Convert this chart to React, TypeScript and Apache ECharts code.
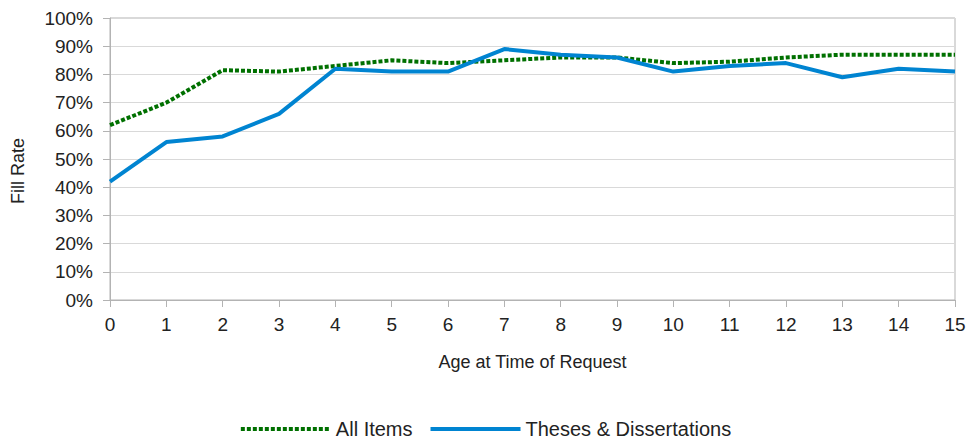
import React, { useEffect, useRef } from "react";
import * as echarts from "echarts";

const ages = ["0", "1", "2", "3", "4", "5", "6", "7", "8", "9", "10", "11", "12", "13", "14", "15"];
const allItems = [62, 70, 81.5, 81, 83, 85, 84, 85, 86, 86, 84, 84.5, 86, 87, 87, 87];
const theses = [42, 56, 58, 66, 82, 81, 81, 89, 87, 86, 81, 83, 84, 79, 82, 81];
const seriesNames = ["All Items", "Theses & Dissertations"];

const FONT = "Liberation Sans, Arial, sans-serif";
const TEXT = "#222222";

export default function App() {
  const ref = useRef<HTMLDivElement>(null);
  useEffect(() => {
    if (!ref.current) return;
    const chart = echarts.init(ref.current, undefined, { renderer: "svg" });
    chart.setOption({
      animation: false,
      textStyle: { fontFamily: FONT, color: TEXT },
      grid: {
        left: 110,
        right: 15,
        top: 18,
        bottom: 141,
        show: true,
        borderColor: "#b3b3b3",
        borderWidth: 1,
      },
      legend: {
        left: "center",
        top: 419,
        padding: 0,
        itemWidth: 90,
        itemHeight: 16,
        itemGap: 16,
        itemStyle: { opacity: 0 },
        lineStyle: { width: 4 },
        textStyle: { fontFamily: FONT, fontSize: 20, lineHeight: 20, color: TEXT },
        data: seriesNames,
      },
      graphic: [
        {
          type: "text",
          x: 18,
          y: 171,
          rotation: Math.PI / 2,
          style: {
            text: "Fill Rate",
            fontFamily: FONT,
            fontSize: 18,
            fill: TEXT,
            textAlign: "center",
            textVerticalAlign: "middle",
          },
        },
      ],
      xAxis: {
        type: "category",
        data: ages,
        boundaryGap: false,
        name: "Age at Time of Request",
        nameLocation: "middle",
        nameGap: 53,
        nameTextStyle: { fontFamily: FONT, fontSize: 18, color: TEXT },
        axisLine: { show: true, lineStyle: { color: "#b3b3b3", width: 1 } },
        axisTick: { show: true, length: 7, lineStyle: { color: "#b3b3b3" } },
        axisLabel: { fontFamily: FONT, fontSize: 19, color: TEXT, margin: 15 },
        splitLine: { show: false },
      },
      yAxis: {
        type: "value",
        min: 0,
        max: 100,
        interval: 10,
        axisLine: { show: true, lineStyle: { color: "#b3b3b3", width: 1 } },
        axisTick: { show: true, length: 7, lineStyle: { color: "#b3b3b3" } },
        axisLabel: {
          fontFamily: FONT,
          fontSize: 19,
          color: TEXT,
          margin: 17,
          formatter: "{value}%",
        },
        splitLine: { show: true, lineStyle: { color: "#d9d9d9", width: 1 } },
      },
      series: [
        {
          name: seriesNames[0],
          type: "line",
          data: allItems,
          symbol: "none",
          lineStyle: { color: "#007000", width: 4, type: [4, 2] },
          itemStyle: { color: "#007000" },
          z: 2,
        },
        {
          name: seriesNames[1],
          type: "line",
          data: theses,
          symbol: "none",
          lineStyle: { color: "#0084d1", width: 4 },
          itemStyle: { color: "#0084d1" },
          z: 3,
        },
      ],
    });
    return () => chart.dispose();
  }, []);
  return (
    <div
      ref={ref}
      style={{ position: "absolute", left: 0, top: 0, width: 970, height: 441 }}
    />
  );
}
